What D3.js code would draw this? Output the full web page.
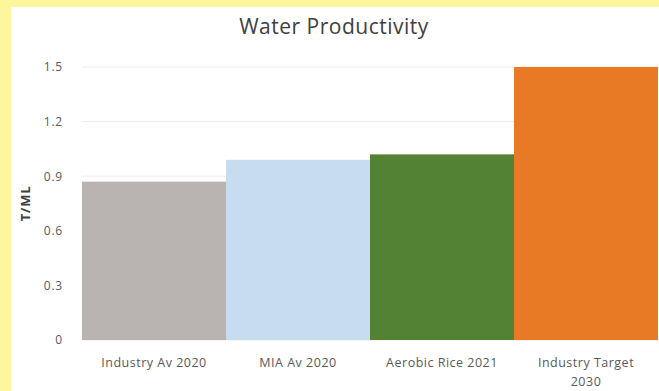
<!DOCTYPE html>
<html>
<head>
<meta charset="utf-8">
<script src="https://cdn.jsdelivr.net/npm/d3@7"></script>
<style>
  body { margin: 0; background: #fff59c; }
  svg { display: block; }
</style>
</head>
<body>
<svg id="drawing_region"></svg>
<script>
const categories = [['Industry Av 2020'], ['MIA Av 2020'], ['Aerobic Rice 2021'], ['Industry Target', '2030']];
const values = [0.87, 0.99, 1.02, 1.5];
const colors = ['#b9b4b1', '#c8dcf0', '#548235', '#e87a25'];
const yticks = [0, 0.3, 0.6, 0.9, 1.2, 1.5];

const width = 659, height = 391;
const margin = {top: 67, right: 1, bottom: 51, left: 82};
const font = '"Open Sans", Lato, sans-serif';

const svg = d3.select('#drawing_region')
    .attr('width', width)
    .attr('height', height);

// white panel inside the yellow frame
svg.append('rect')
    .attr('x', 11).attr('y', 7)
    .attr('width', width - 11).attr('height', height - 7)
    .attr('fill', '#ffffff');

const inner_width = width - margin.left - margin.right;
const inner_height = height - margin.top - margin.bottom;

const chart = svg.append('g')
    .attr('transform', `translate(${margin.left}, ${margin.top})`);

const xscale = d3.scaleBand()
    .domain(categories.map(d => d.join(' ')))
    .range([0, inner_width])
    .padding(0);

const yscale = d3.scaleLinear()
    .domain([0, 1.5])
    .range([inner_height, 0]);

// gridlines
chart.append('g')
    .selectAll('line')
    .data(yticks)
    .join('line')
    .attr('x1', 0).attr('x2', inner_width)
    .attr('y1', d => yscale(d)).attr('y2', d => yscale(d))
    .attr('stroke', '#ececec')
    .attr('stroke-width', 1);

// y axis labels
const yaxis = d3.axisLeft(yscale)
    .tickValues(yticks)
    .tickFormat(d => d === 0 ? '0' : d3.format('.1f')(d))
    .tickSize(0)
    .tickPadding(19);

const yaxis_group = chart.append('g').call(yaxis);
yaxis_group.select('.domain').remove();
yaxis_group.selectAll('text')
    .attr('font-family', font)
    .attr('font-size', '12px')
    .attr('letter-spacing', '0.8px')
    .attr('fill', '#595959');

// bars
chart.selectAll('rect.bar')
    .data(values)
    .join('rect')
    .attr('class', 'bar')
    .attr('x', (d, i) => xscale(categories[i].join(' ')))
    .attr('y', d => yscale(d))
    .attr('width', xscale.bandwidth())
    .attr('height', d => inner_height - yscale(d))
    .attr('fill', (d, i) => colors[i]);

// x labels
const xlabels = chart.append('g')
    .selectAll('text')
    .data(categories)
    .join('text')
    .attr('x', d => xscale(d.join(' ')) + xscale.bandwidth() / 2)
    .attr('y', inner_height + 27)
    .attr('text-anchor', 'middle')
    .attr('font-family', font)
    .attr('font-size', '12.5px')
    .attr('letter-spacing', '0.5px')
    .attr('fill', '#595959');

xlabels.selectAll('tspan')
    .data(d => d)
    .join('tspan')
    .attr('x', function() { return d3.select(this.parentNode).attr('x'); })
    .attr('dy', (d, i) => i === 0 ? 0 : 19)
    .text(d => d);

// y axis title
svg.append('text')
    .attr('transform', `translate(30, ${margin.top + inner_height / 2}) rotate(-90)`)
    .attr('text-anchor', 'middle')
    .attr('font-family', font)
    .attr('font-size', '13px')
    .attr('font-weight', 'bold')
    .attr('letter-spacing', '0.8px')
    .attr('fill', '#404040')
    .text('T/ML');

// title
svg.append('text')
    .attr('x', 334)
    .attr('y', 34)
    .attr('text-anchor', 'middle')
    .attr('font-family', font)
    .attr('font-size', '21px')
    .attr('letter-spacing', '0.5px')
    .attr('fill', '#404040')
    .text('Water Productivity');
</script>
</body>
</html>
